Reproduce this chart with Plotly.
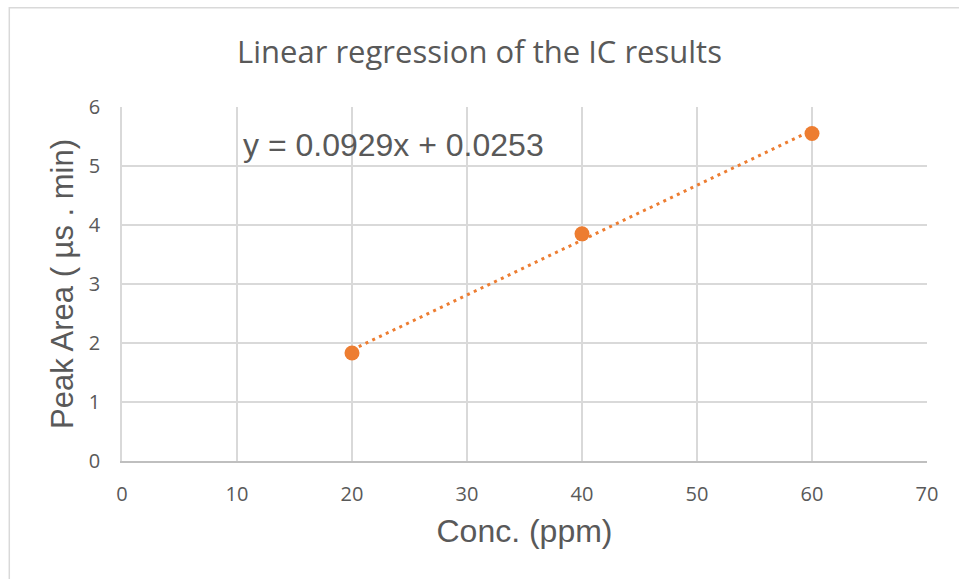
import numpy as np
import plotly.graph_objects as go

# Data
conc_ppm = [20, 40, 60]
peak_area = [1.83, 3.85, 5.55]
equation_text = "y = 0.0929x + 0.0253"
x_ticks = [0, 10, 20, 30, 40, 50, 60, 70]
y_ticks = [0, 1, 2, 3, 4, 5, 6]

orange = "#ED7D31"
grey_text = "#595959"
grid = "#D9D9D9"

slope, intercept = np.polyfit(conc_ppm, peak_area, 1)
trend_x = [min(conc_ppm), max(conc_ppm)]
trend_y = [slope * v + intercept for v in trend_x]

fig = go.Figure()
fig.add_trace(go.Scatter(
    x=trend_x, y=trend_y, mode="lines",
    line=dict(color=orange, width=3, dash="3px,4.5px"),
    hoverinfo="skip", showlegend=False,
))
fig.add_trace(go.Scatter(
    x=conc_ppm, y=peak_area, mode="markers",
    marker=dict(color=orange, size=15, line=dict(width=0)),
    showlegend=False,
))

fig.add_annotation(
    x=10.36, y=5.36, xref="x", yref="y", text=equation_text,
    showarrow=False, xanchor="left", yanchor="middle",
    font=dict(family="Liberation Sans, Arial", size=32, color=grey_text),
)

# outer chart border
fig.add_shape(type="rect", xref="paper", yref="paper",
              x0=-0.140, x1=1.3, y0=-0.6, y1=1.2805,
              line=dict(color=grid, width=1.5), fillcolor="rgba(0,0,0,0)", layer="below")

fig.update_layout(
    width=959, height=579,
    margin=dict(l=122, r=32, t=107, b=118),
    paper_bgcolor="white", plot_bgcolor="white",
    title=dict(text="Linear regression of the IC results", x=0.5, xref="container",
               xanchor="center", y=0.91, yanchor="middle",
               font=dict(family="Open Sans", size=31, color=grey_text)),
    xaxis=dict(
        range=[0, 70], tickvals=x_ticks, showgrid=True, gridcolor=grid, gridwidth=1.5,
        zeroline=False, showline=True, linecolor="#BFBFBF", linewidth=1.5,
        ticks="outside", ticklen=14, tickcolor="rgba(0,0,0,0)",
        tickfont=dict(family="Open Sans", size=20, color=grey_text),
        title=dict(text="Conc. (ppm)", standoff=14,
                   font=dict(family="Liberation Sans, Arial", size=32, color=grey_text)),
        fixedrange=True,
    ),
    yaxis=dict(
        range=[0, 6], tickvals=y_ticks, showgrid=True, gridcolor=grid, gridwidth=1.5,
        zeroline=False, showline=True, linecolor=grid, linewidth=1.5,
        ticks="outside", ticklen=16, tickcolor="rgba(0,0,0,0)",
        tickfont=dict(family="Open Sans", size=20, color=grey_text),
        title=dict(text="Peak Area ( µs . min)", standoff=6,
                   font=dict(family="Liberation Sans, Arial", size=31, color=grey_text)),
        fixedrange=True,
    ),
)

fig.write_html("out.html", config={"displayModeBar": False},
               post_script="document.body.style.margin='0';")
